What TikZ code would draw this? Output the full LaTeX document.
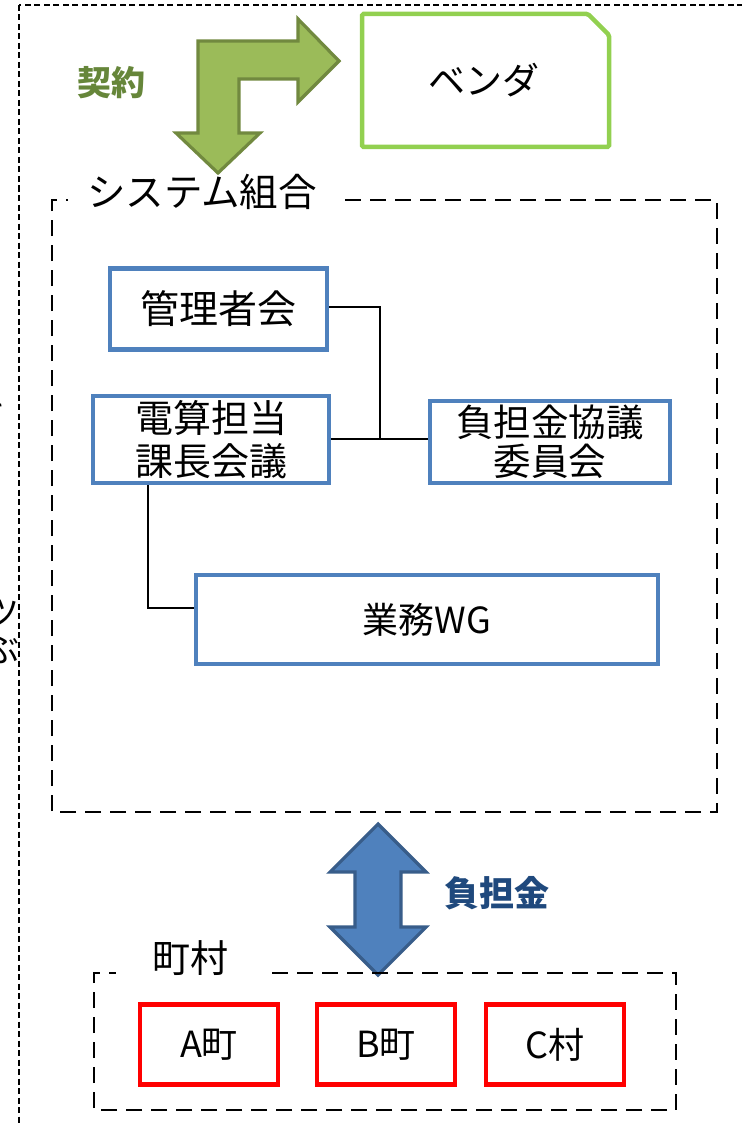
\documentclass[tikz,border=0pt]{standalone}
\usepackage{fontspec}
\setmainfont{Noto Sans CJK JP}
\definecolor{boxblue}{HTML}{4F81BD}
\definecolor{vendgreen}{HTML}{92D050}
\definecolor{arrgreen}{HTML}{9BBB59}
\definecolor{arrgreenline}{HTML}{71893F}
\definecolor{labgreen}{HTML}{66863A}
\definecolor{arrblueline}{HTML}{385D8A}
\definecolor{labblue}{HTML}{1F497D}
\tikzset{
  bluebox/.style={draw=boxblue,line width=4.5pt,align=center,inner sep=0pt,
    font=\fontsize{38.5}{43}\selectfont},
  redbox/.style={draw=red,line width=4.5pt,inner sep=0pt,minimum width=138pt,minimum height=80pt,
    font=\fontsize{36}{40}\selectfont},
  grpdash/.style={line width=2.6pt,dash pattern=on 16pt off 9pt},
  outerdash/.style={line width=1.6pt,dash pattern=on 6pt off 3.5pt},
  conn/.style={line width=2.4pt},
  lbl/.style={inner sep=0pt,font=\fontsize{38.5}{43}\selectfont},
}
\begin{document}
\begin{tikzpicture}[x=1pt,y=-1pt]
\useasboundingbox (0,0) rectangle (741,1126);
% outer dotted frame
\draw[outerdash] (19,5) rectangle (820,1200);
% clipped text at the left edge (the reference shows only their right parts)
\node[lbl,anchor=east,font=\fontsize{34}{40}\selectfont] (cutA) at (6,405) {キ};
\node[lbl,anchor=east,font=\fontsize{34}{40}\selectfont] (cutB) at (20,613) {ツ};
\node[lbl,anchor=east,font=\fontsize{34}{40}\selectfont] (cutC) at (20,650) {ぶ};

% green bent arrow
\draw[fill=arrgreen,draw=arrgreenline,line width=3.2pt,line join=miter]
  (218,173) -- (260,133) -- (239,133) -- (239,79) -- (298,79) -- (298,102)
  -- (339,61) -- (298,19) -- (298,41) -- (198,41) -- (198,133) -- (176,133) -- cycle;
\node[lbl,font=\fontsize{34}{38}\selectfont\bfseries,text=labgreen] (keiyaku) at (111,83) {契約};

% vendor box (snipped corner)
\draw[draw=vendgreen,line width=4.5pt,rounded corners=1.5pt]
  (362,14) -- (588,14) -- (609,35) -- (609,147) -- (362,147) -- cycle;
\node[lbl,font=\fontsize{37}{43}\selectfont] (vendor) at (484,80) {ベンダ};

% system union group
\draw[grpdash] (345,200) -- (717,200) -- (717,812) -- (52,812) -- (52,200) -- (68,200);
\node[lbl] (sys) at (202,192) {システム組合};

\node[bluebox,minimum width=217pt,minimum height=81pt,font=\fontsize{39}{43}\selectfont] (kanri) at (218.5,309) {管理者会};
\node[bluebox,minimum width=236pt,minimum height=87pt,font=\fontsize{38}{43}\selectfont] (densan) at (211,439.5) {電算担当\\課長会議};
\node[bluebox,minimum width=240pt,minimum height=82pt,font=\fontsize{37.5}{39}\selectfont] (futan) at (550,442) {負担金協議\\委員会};
\node[bluebox,minimum width=462pt,minimum height=89pt,font=\fontsize{36}{40}\selectfont] (gyomu) at (427,619.5) {業務WG};

\coordinate (jn) at (380,439);
\draw[conn] (kanri.east |- 0,307) -| (jn);
\draw[conn] (densan.east |- jn) -- (futan.west |- jn);
\coordinate (dlow) at (148,608);
\draw[conn] (densan.south -| dlow) -- (dlow) -- (gyomu.west |- dlow);

% blue double arrow
\draw[fill=boxblue,draw=arrblueline,line width=3.2pt,line join=miter]
  (378,824) -- (426,872) -- (401,872) -- (401,927) -- (426,927) -- (378,975)
  -- (330,927) -- (355,927) -- (355,872) -- (330,872) -- cycle;
\node[lbl,font=\fontsize{35}{38}\selectfont\bfseries,text=labblue] (futanlbl) at (497,893) {負担金};

% municipalities group
\draw[grpdash] (272,973) -- (676,973) -- (676,1110) -- (94,1110) -- (94,973) -- (116,973);
\node[lbl,font=\fontsize{38}{43}\selectfont] (choson) at (190,958) {町村};
\node[redbox] (a) at (209,1044.5) {A町};
\node[redbox] (b) at (386,1044.5) {B町};
\node[redbox] (c) at (555,1044.5) {C村};
\end{tikzpicture}
\end{document}
